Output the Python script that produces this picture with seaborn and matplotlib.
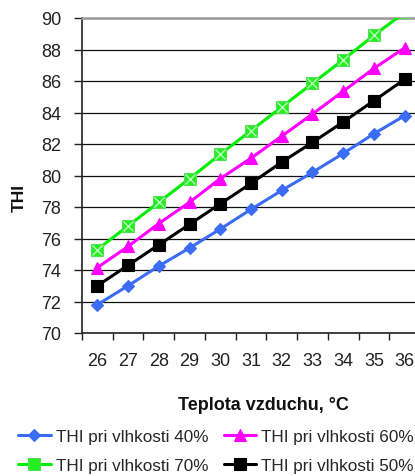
import numpy as np
import pandas as pd
import matplotlib
matplotlib.use("Agg")
import matplotlib.pyplot as plt
import seaborn as sns

# Air temperature (°C) and the temperature-humidity index at four humidity levels
teplota = [26, 27, 28, 29, 30, 31, 32, 33, 34, 35, 36]
thi_40 = [71.8, 73.0, 74.25, 75.4, 76.6, 77.85, 79.05, 80.2, 81.4, 82.65, 83.8]
thi_60 = [74.15, 75.5, 76.95, 78.3, 79.8, 81.1, 82.5, 83.9, 85.35, 86.8, 88.1]
thi_70 = [75.3, 76.8, 78.3, 79.8, 81.35, 82.85, 84.35, 85.85, 87.35, 88.9, 90.35]
thi_50 = [73.0, 74.3, 75.6, 76.9, 78.2, 79.5, 80.85, 82.1, 83.4, 84.75, 86.1]

labels = {
    "40": "THI pri vlhkosti 40%",
    "60": "THI pri vlhkosti 60%",
    "70": "THI pri vlhkosti 70%",
    "50": "THI pri vlhkosti 50%",
}
series = {"40": thi_40, "60": thi_60, "70": thi_70, "50": thi_50}

df = pd.concat(
    [pd.DataFrame({"teplota": teplota, "THI": vals, "serie": labels[k]})
     for k, vals in series.items()],
    ignore_index=True,
)

sns.set_theme(style="white")
plt.rcParams["font.family"] = ["Liberation Sans", "DejaVu Sans"]

W, H = 415, 477
fig = plt.figure(figsize=(W / 100, H / 100), dpi=100)
ax = fig.add_axes([82 / W, (H - 334) / H, 338 / W, 315 / H])

styles = {
    "40": dict(color="#3a6cf4", marker="D", ms=6.5, mec="#3a6cf4", mfc="#3a6cf4"),
    "60": dict(color="#ff00ff", marker="^", ms=8, mec="#ff00ff", mfc="#ff00ff"),
    "70": dict(color="#00ee00", marker="s", ms=8.5, mec="#55dd55", mfc="#22ee22"),
    "50": dict(color="#000000", marker="s", ms=8.5, mec="#000000", mfc="#000000"),
}

handles = {}
for k in ["40", "60", "70", "50"]:
    st = styles[k]
    sub = df[df["serie"] == labels[k]]
    sns.lineplot(data=sub, x="teplota", y="THI", ax=ax, color=st["color"],
                 linewidth=2.2, marker=st["marker"], markersize=st["ms"],
                 markeredgecolor=st["mec"], markerfacecolor=st["mfc"],
                 markeredgewidth=0.8, label=labels[k], legend=False,
                 zorder=3)
    handles[k] = ax.lines[-1]

# cross inside the green squares
ax.plot(teplota, thi_70, linestyle="none", marker="x", ms=6.5,
        mec="#b8ffb8", mew=1.0, zorder=4)

ax.set_xlim(25.5, 36.5)
ax.set_ylim(70, 90)

# category-style x axis: tick marks on boundaries, labels centred
ax.set_xticks(np.arange(25.5, 37, 1.0))
ax.set_xticklabels([])
ax.set_xticks(teplota, minor=True)
ax.set_xticklabels([str(t) for t in teplota], minor=True)
ax.tick_params(axis="x", which="major", direction="out", length=5,
               width=1.0, color="#222222", bottom=True)
ax.tick_params(axis="x", which="minor", length=0, pad=14,
               labelsize=13, labelcolor="#222222")

ax.set_yticks(np.arange(70, 91, 2))
ax.tick_params(axis="y", direction="out", length=6, width=1.0,
               color="#222222", left=True, labelsize=13,
               labelcolor="#222222", pad=9)

ax.yaxis.grid(True, color="#111111", linewidth=0.9)
ax.xaxis.grid(False)
ax.set_axisbelow(True)

for s in ["left", "bottom"]:
    ax.spines[s].set_color("#222222")
    ax.spines[s].set_linewidth(1.2)
ax.spines["top"].set_color("#999999")
ax.spines["top"].set_linewidth(1.8)
ax.spines["right"].set_visible(False)

ax.set_xlabel("")
ax.set_ylabel("")
fig.text(263 / W, 1 - 405 / H, "Teplota vzduchu, °C", fontsize=13,
         fontweight="bold", color="#111111", ha="center", va="center")
fig.text(19 / W, 1 - 198 / H, "THI", fontsize=12.5, fontweight="bold",
         color="#111111", ha="center", va="center", rotation=90)

order = ["40", "70", "60", "50"]
fig.legend([handles[k] for k in order], [labels[k] for k in order],
           ncol=2, loc="center", bbox_to_anchor=(216 / W, 1 - 452 / H),
           frameon=False, fontsize=12.3, handlelength=1.9, handletextpad=0.3,
           columnspacing=0.9, labelspacing=0.78, borderaxespad=0,
           borderpad=0)

fig.savefig("out.png", dpi=100)
